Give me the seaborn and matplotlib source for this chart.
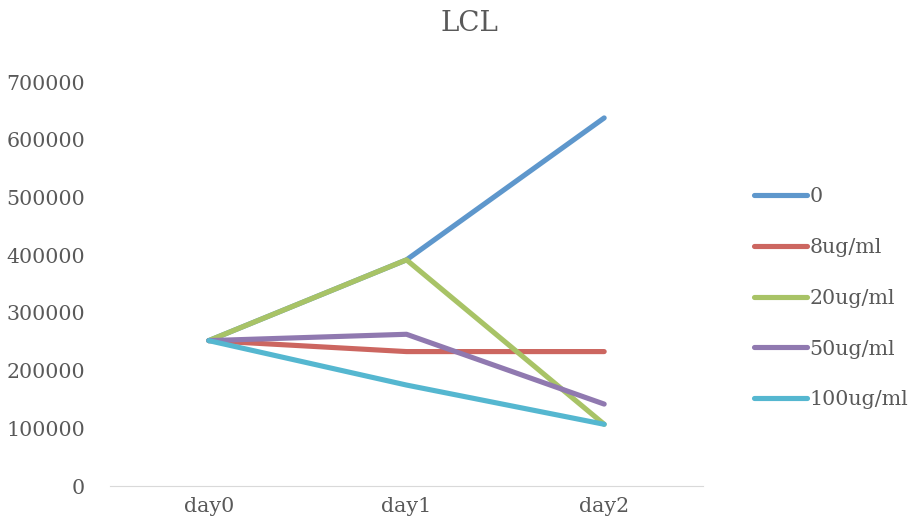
import pandas as pd
import matplotlib.pyplot as plt
import seaborn as sns

# data
days = ["day0", "day1", "day2"]
series_names = ["0", "8ug/ml", "20ug/ml", "50ug/ml", "100ug/ml"]
vals_0 = [252000, 392000, 638000]
vals_8 = [252000, 233000, 233000]
vals_20 = [252000, 392000, 107000]
vals_50 = [252000, 263000, 142000]
vals_100 = [252000, 175000, 107000]
colors = ["#5E97CC", "#CC6660", "#A8C366", "#9079B0", "#55B7D0"]

rows = []
for name, vals in zip(series_names, [vals_0, vals_8, vals_20, vals_50, vals_100]):
    for d, v in zip(days, vals):
        rows.append({"day": d, "value": v, "group": name})
df = pd.DataFrame(rows)

sns.set_style("white")
plt.rcParams["font.family"] = ["DejaVu Serif"]

fig = plt.figure(figsize=(9.16, 5.3), dpi=100)
ax = fig.add_axes([0.12, 0.083, 0.6475, 0.762])

sns.lineplot(data=df, x="day", y="value", hue="group", hue_order=series_names,
             palette=colors, linewidth=3.7, ax=ax, sort=False)

ax.set_xlim(-0.5, 2.5)
ax.set_ylim(0, 700000)
ax.set_yticks(range(0, 700001, 100000))
ax.set_yticklabels([str(v) for v in range(0, 700001, 100000)])
ax.set_xlabel("")
ax.set_ylabel("")
for s in ["left", "top", "right"]:
    ax.spines[s].set_visible(False)
ax.spines["bottom"].set_color("#D9D9D9")
ax.tick_params(axis="both", length=0, labelsize=14.8, colors="#595959")
ax.tick_params(axis="y", pad=18)
ax.tick_params(axis="x", pad=8)

handles, labels = ax.get_legend_handles_labels()
ax.legend(handles, labels, loc="center left", bbox_to_anchor=(1.055, 0.465),
          frameon=False, fontsize=14.8, labelcolor="#595959",
          handlelength=2.55, handletextpad=0.15, labelspacing=1.55)

fig.text(0.513, 0.955, "LCL", ha="center", va="center", fontsize=20, color="#595959")

plt.savefig("out.png", dpi=100)
